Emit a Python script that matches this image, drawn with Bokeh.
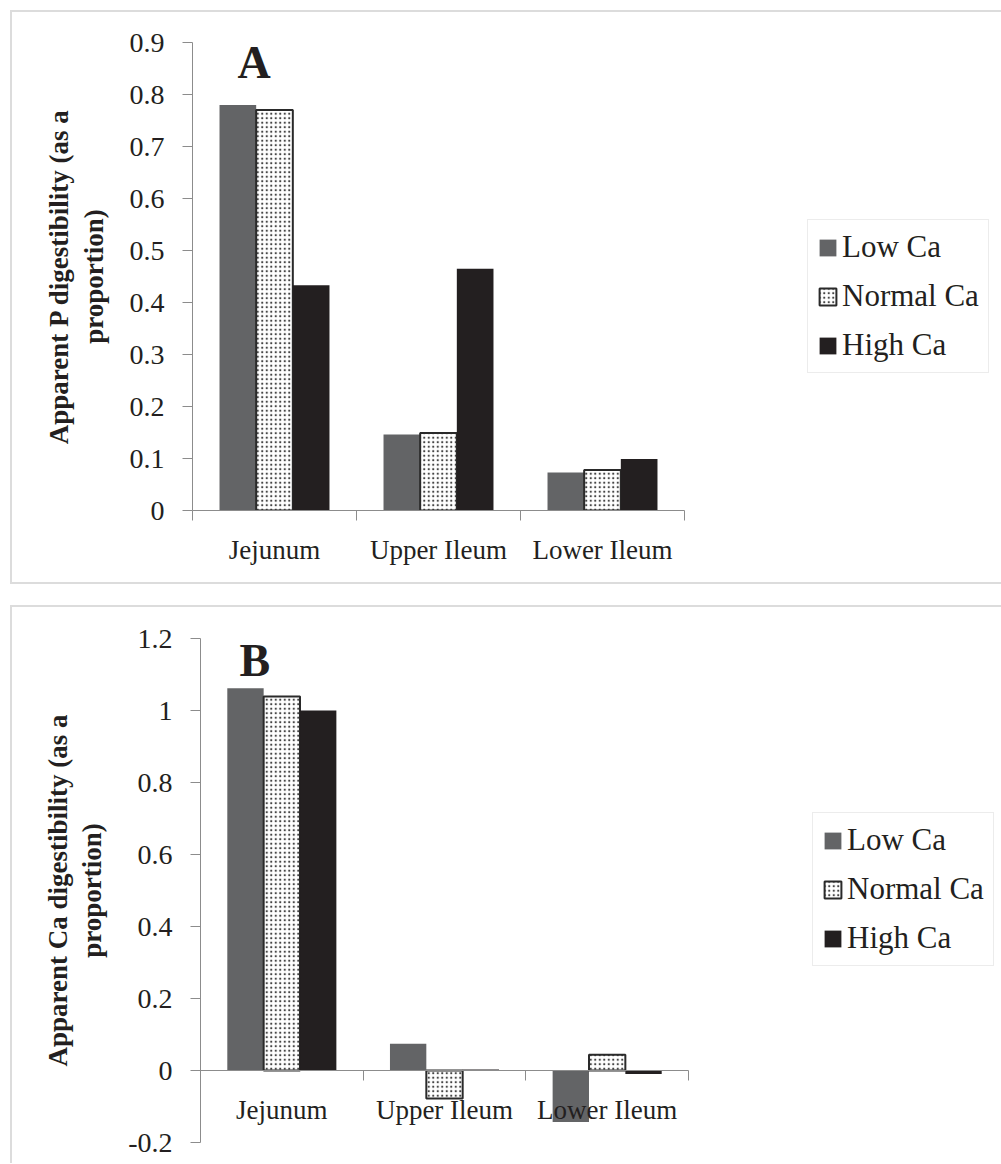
from bokeh.plotting import figure
from bokeh.layouts import column
from bokeh.models import (ColumnDataSource, Range1d, FixedTicker, NumeralTickFormatter,
                          Legend, LegendItem, Title, Label)
from bokeh.embed import file_html
from bokeh.resources import INLINE

# ---- data -------------------------------------------------------------
categories = ["Jejunum", "Upper Ileum", "Lower Ileum"]
series = ["Low Ca", "Normal Ca", "High Ca"]

# Apparent P digestibility (proportion)
p_low = [0.780, 0.146, 0.073]
p_normal = [0.770, 0.149, 0.078]
p_high = [0.433, 0.465, 0.099]

# Apparent Ca digestibility (proportion)
ca_low = [1.062, 0.074, -0.143]
ca_normal = [1.039, -0.078, 0.044]
ca_high = [1.000, 0.003, -0.010]

p_ticks = [0, 0.1, 0.2, 0.3, 0.4, 0.5, 0.6, 0.7, 0.8, 0.9]
ca_ticks = [-0.2, 0, 0.2, 0.4, 0.6, 0.8, 1.0, 1.2]

# ---- styling ------------------------------------------------------------
FONT = "Liberation Serif"
TEXT = "#231f20"
AXIS = "#8c8c8c"
LOW_COLOR = "#636466"
HIGH_COLOR = "#231f20"
BORDER = "2px solid #dcdcdc"
BAR_W = 0.2235
CANVAS_W = 989


def make_panel(letter, title_lines, low, normal, high, yticks, ymin, ymax,
               height, frame_left, axis_px, top, bottom, legend_loc, letter_pos,
               x_at_zero):
    n = len(categories)
    # the frame runs to the right edge; the category axis occupies axis_px of it
    x_end = n * (CANVAS_W - frame_left) / axis_px
    p = figure(width=CANVAS_W, height=height, output_backend="svg", toolbar_location=None,
               x_range=Range1d(0, x_end), y_range=Range1d(ymin, ymax),
               min_border_left=frame_left, min_border_right=0,
               min_border_top=top, min_border_bottom=bottom,
               background_fill_color="white", border_fill_color="white")
    p.outline_line_color = None
    p.xgrid.visible = False
    p.ygrid.visible = False

    centers = [i + 0.5 for i in range(n)]
    src = ColumnDataSource(dict(
        low_x=[c - BAR_W for c in centers], normal_x=centers,
        high_x=[c + BAR_W for c in centers],
        low=low, normal=normal, high=high))

    r_low = p.vbar(x="low_x", top="low", bottom=0, width=BAR_W, source=src,
                   fill_color=LOW_COLOR, line_color=None)
    r_norm = p.vbar(x="normal_x", top="normal", bottom=0, width=BAR_W, source=src,
                    fill_color="white", line_color="#2a2a2a", line_width=2,
                    hatch_pattern="dot", hatch_color="#444444", hatch_scale=4.5,
                    hatch_weight=0.7)
    r_high = p.vbar(x="high_x", top="high", bottom=0, width=BAR_W, source=src,
                    fill_color=HIGH_COLOR, line_color=None)

    # x axis: labels at group centres, tick marks at group boundaries
    xa = p.xaxis[0]
    xa.bounds = (0, n)
    xa.ticker = FixedTicker(ticks=centers, minor_ticks=list(range(n + 1)))
    xa.major_label_overrides = {c: name for c, name in zip(centers, categories)}
    xa.major_tick_out = 0
    xa.major_tick_in = 0
    xa.minor_tick_out = 10
    xa.minor_tick_in = 0
    xa.minor_tick_line_color = AXIS
    xa.axis_line_color = AXIS
    xa.major_label_text_font = FONT
    xa.major_label_text_font_size = "27px"
    xa.major_label_text_color = TEXT
    xa.major_label_standoff = 14
    if x_at_zero:
        xa.fixed_location = 0

    ya = p.yaxis[0]
    ya.ticker = FixedTicker(ticks=yticks)
    ya.formatter = NumeralTickFormatter(format="0.[0]")
    ya.major_tick_out = 10
    ya.major_tick_in = 0
    ya.minor_tick_line_color = None
    ya.major_tick_line_color = AXIS
    ya.axis_line_color = AXIS
    ya.major_label_text_font = FONT
    ya.major_label_text_font_size = "28px"
    ya.major_label_text_color = TEXT
    ya.major_label_standoff = 18
    ya.axis_label = title_lines[1]
    ya.axis_label_text_font = FONT
    ya.axis_label_text_font_size = "27px"
    ya.axis_label_text_font_style = "bold"
    ya.axis_label_text_color = TEXT
    ya.axis_label_standoff = 18

    p.add_layout(Title(text=title_lines[0], align="center", text_font=FONT,
                       text_font_size="27px", text_font_style="bold",
                       text_color=TEXT, standoff=3), "left")

    p.add_layout(Label(x=letter_pos[0], y=letter_pos[1], text=letter,
                       text_font=FONT, text_font_size="46px",
                       text_font_style="bold", text_color=TEXT,
                       text_baseline="middle"))

    legend = Legend(items=[LegendItem(label=series[0], renderers=[r_low]),
                           LegendItem(label=series[1], renderers=[r_norm]),
                           LegendItem(label=series[2], renderers=[r_high])],
                    location=legend_loc, orientation="vertical",
                    label_text_font=FONT, label_text_font_size="31px",
                    label_text_color=TEXT, glyph_width=21, glyph_height=21,
                    label_standoff=4, padding=9, spacing=13, label_height=32,
                    margin=0, border_line_color="#d9d9d9", border_line_width=1,
                    background_fill_color="white", background_fill_alpha=1)
    p.add_layout(legend)
    return p


pA = make_panel("A", ["Apparent P digestibility (as a", "proportion)"],
                p_low, p_normal, p_high, p_ticks, 0, 0.9,
                570, 180, 492, 30, 72, (615, 137), (0.274, 0.861), False)
pB = make_panel("B", ["Apparent Ca digestibility (as a", "proportion)"],
                ca_low, ca_normal, ca_high, ca_ticks, -0.2, 1.2,
                595, 188, 488, 31, 60, (612, 176), (0.24, 1.139), True)

boxA = column(pA, margin=(10, 0, 0, 10),
              styles={"border-top": BORDER, "border-left": BORDER, "border-bottom": BORDER})
boxB = column(pB, margin=(21, 0, 0, 10),
              styles={"border-top": BORDER, "border-left": BORDER,
                      "max-height": "558px", "overflow": "hidden"})
page = column(boxA, boxB)

open("out.html", "w").write(file_html(page, INLINE))
